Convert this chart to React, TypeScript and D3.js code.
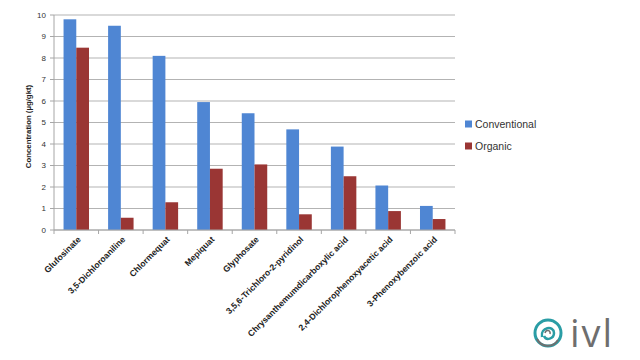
import React from 'react';
import * as d3 from 'd3';

const categories = [
  'Glufosinate',
  '3,5-Dichloroaniline',
  'Chlormequat',
  'Mepiquat',
  'Glyphosate',
  '3,5,6-Trichloro-2-pyridinol',
  'Chrysanthemumdicarboxylic acid',
  '2,4-Dichlorophenoxyacetic acid',
  '3-Phenoxybenzoic acid',
];
const conventional = [9.8, 9.5, 8.1, 5.95, 5.43, 4.68, 3.88, 2.07, 1.12];
const organic = [8.48, 0.57, 1.29, 2.85, 3.05, 0.73, 2.5, 0.88, 0.51];
const seriesNames = ['Conventional', 'Organic'];
const yTicks = [0, 1, 2, 3, 4, 5, 6, 7, 8, 9, 10];

const colors = ['#4F86D3', '#9A3634'];
const font = '"Liberation Sans", Arial, sans-serif';

const width = 640;
const height = 360;
const left = 54;
const right = 455;
const top = 15;
const bottom = 230;

export default function App() {
  const x = d3.scaleBand().domain(categories).range([left, right]).paddingInner(0).paddingOuter(0);
  const inner = d3.scaleBand().domain(seriesNames).range([0, x.bandwidth()]).paddingInner(0).paddingOuter(0.75);
  const y = d3.scaleLinear().domain([0, 10]).range([bottom, top]);
  const series = [conventional, organic];

  return (
    <svg width={width} height={height} style={{ position: 'absolute', left: 0, top: 0, background: '#fff' }}>
      {/* gridlines */}
      {yTicks.map(t => (
        <line key={'g' + t} x1={left} x2={right} y1={y(t)} y2={y(t)} stroke="#B3B3B3" strokeWidth={1} />
      ))}
      {/* y axis */}
      <line x1={left} x2={left} y1={top} y2={bottom} stroke="#A6A6A6" />
      {yTicks.map(t => (
        <g key={'t' + t}>
          <line x1={left - 4} x2={left} y1={y(t)} y2={y(t)} stroke="#A6A6A6" />
          <text x={left - 8} y={y(t)} dy="0.35em" textAnchor="end" fontSize={8} fontFamily={font} fill="#333">{t}</text>
        </g>
      ))}
      <text transform={`translate(31,${(top + bottom) / 2 + 4}) rotate(-90)`} textAnchor="middle" fontSize={7.8} fontWeight="bold" fontFamily={font} fill="#222">
        Concentration (µg/gkt)
      </text>
      {/* bars */}
      {series.map((vals, si) =>
        vals.map((v, i) => (
          <rect
            key={si + '-' + i}
            x={(x(categories[i]) as number) + (inner(seriesNames[si]) as number)}
            y={y(v)}
            width={inner.bandwidth()}
            height={bottom - y(v)}
            fill={colors[si]}
          />
        ))
      )}
      {/* x axis */}
      <line x1={left} x2={right} y1={bottom} y2={bottom} stroke="#A6A6A6" />
      {d3.range(categories.length + 1).map(i => {
        const xx = left + i * x.step();
        return <line key={'xt' + i} x1={xx} x2={xx} y1={bottom} y2={bottom + 4} stroke="#A6A6A6" />;
      })}
      {categories.map(c => {
        const cx = (x(c) as number) + x.bandwidth() / 2;
        return (
          <text key={c} transform={`translate(${cx + 5},${bottom + 10}) rotate(-45)`} textAnchor="end" fontSize={8.6} fontWeight="bold" fontFamily={font} fill="#222">
            {c}
          </text>
        );
      })}
      {/* legend */}
      {seriesNames.map((s, i) => (
        <g key={s} transform={`translate(465,${124 + i * 22})`}>
          <rect x={0} y={-3.5} width={7} height={7} fill={colors[i]} />
          <text x={10} y={0} dy="0.35em" fontSize={10.5} fontFamily={font} fill="#333">{s}</text>
        </g>
      ))}
      {/* logo */}
      <g transform="translate(548,333)">
        <circle r={13} fill="none" stroke="#2A9DA5" strokeWidth={3} />
        <path d="M -11 6 A 12 12 0 0 0 10 7" fill="none" stroke="#6F6F6F" strokeWidth={2} />
        <path d="M -6 4 C -8 -6, 6 -8, 6 0 C 6 6, -2 8, -4 3" fill="none" stroke="#2A9DA5" strokeWidth={2.5} />
        <path d="M -3 0 C -2 -4, 3 -3, 2 1" fill="none" stroke="#6F6F6F" strokeWidth={1.5} />
      </g>
      <text x={570} y={347} fontSize={38} letterSpacing={2} fontFamily={'"Open Sans", sans-serif'} fontWeight={400} fill="#6E6E6E">ivl</text>
    </svg>
  );
}
